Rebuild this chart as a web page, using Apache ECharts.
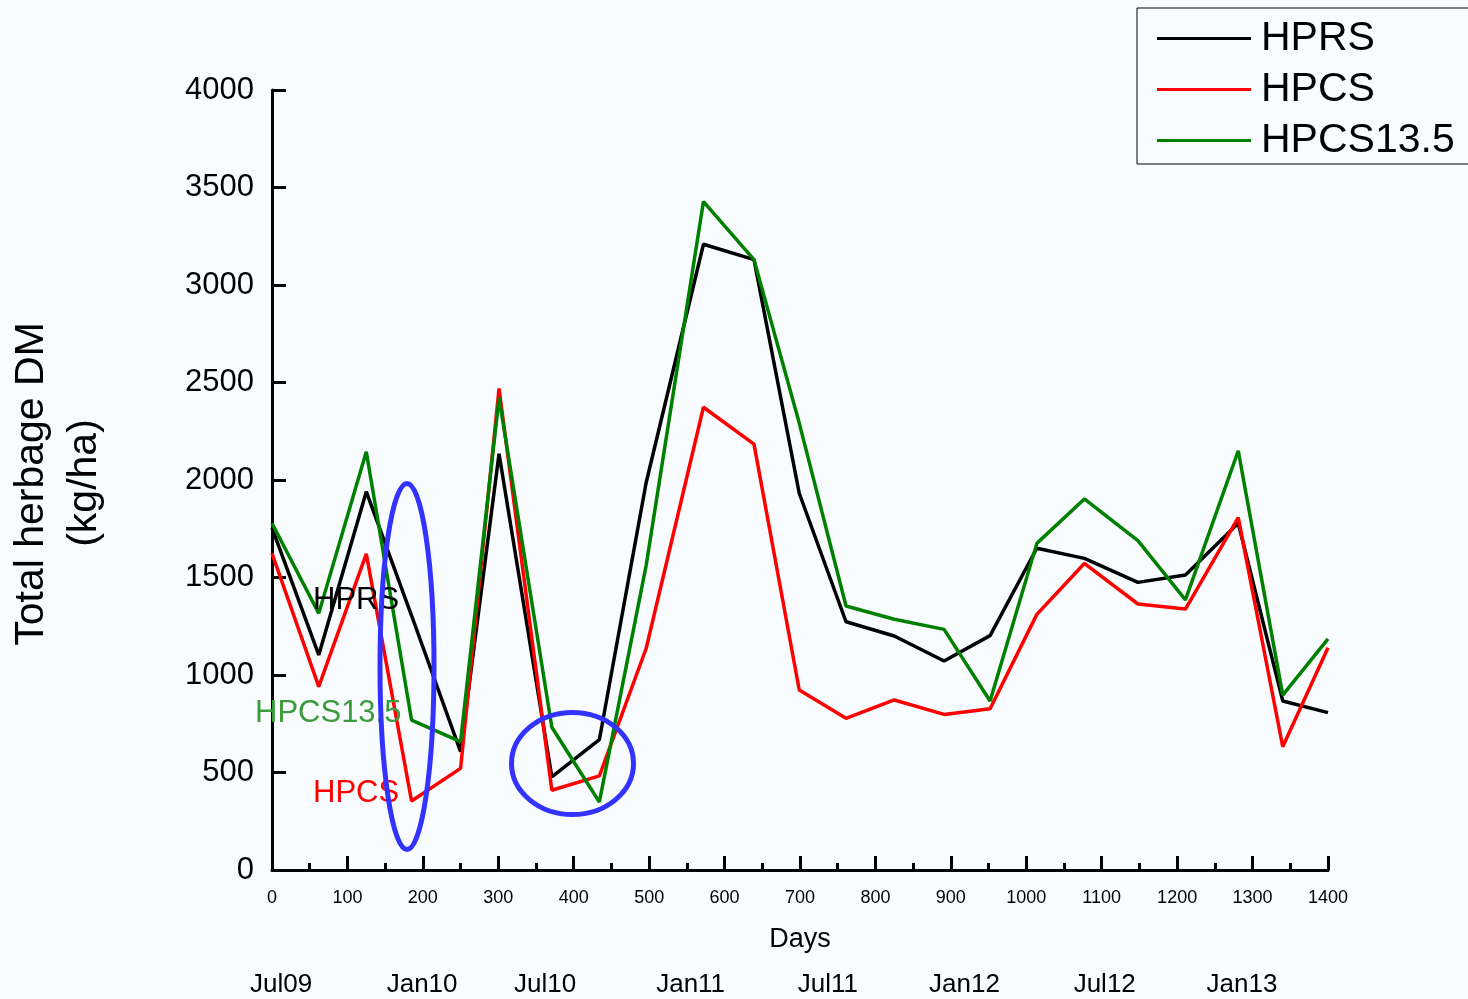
<!DOCTYPE html>
<html>
<head>
<meta charset="utf-8">
<script src="https://cdn.jsdelivr.net/npm/echarts@6/dist/echarts.min.js"></script>
<style>
html,body{margin:0;padding:0;background:#f9fcff;}
#c{width:1468px;height:999px;}
</style>
</head>
<body>
<div id="c"></div>
<script>
// Data
const days = [0, 62, 125, 185, 250, 301, 371, 434, 496, 572, 639, 699, 761, 825, 891, 952, 1014, 1077, 1148, 1211, 1281, 1340, 1400];
const hprs = [1755, 1103, 1940, 1305, 607, 2135, 477, 668, 1986, 3209, 3130, 1932, 1273, 1200, 1072, 1202, 1650, 1598, 1475, 1513, 1778, 867, 807];
const hpcs = [1624, 940, 1621, 354, 521, 2469, 409, 483, 1136, 2373, 2184, 923, 778, 872, 798, 827, 1311, 1572, 1364, 1338, 1807, 632, 1140];
const hpcs135 = [1778, 1316, 2145, 769, 658, 2422, 732, 349, 1561, 3428, 3130, 2292, 1354, 1286, 1234, 867, 1675, 1903, 1689, 1385, 2150, 897, 1185];
const seriesNames = ['HPRS', 'HPCS', 'HPCS13.5'];
const seriesColors = ['#000000', '#ff0000', '#008000'];
const monthLabels = ['Jul09', 'Jan10', 'Jul10', 'Jan11', 'Jul11', 'Jan12', 'Jul12', 'Jan13'];
const monthDays = [12, 199, 362, 555, 737, 918, 1104, 1286];

const font = 'Liberation Sans, Arial, sans-serif';
const pairs = vals => days.map((d, i) => [d, vals[i]]);
const allVals = [hprs, hpcs, hpcs135];

const chart = echarts.init(document.getElementById('c'), null, {renderer: 'canvas'});
chart.setOption({
  backgroundColor: '#f9fcff',
  animation: false,
  grid: {left: 272, top: 90, right: 140, bottom: 129, outerBoundsMode: 'none'},
  legend: {
    orient: 'vertical',
    left: 1137, top: 8,
    padding: [10, 14, 3, 20],
    borderColor: '#000', borderWidth: 1,
    icon: 'rect',
    itemWidth: 94, itemHeight: 3, itemGap: 10,
    textStyle: {fontSize: 41, fontFamily: font, color: '#000', lineHeight: 41, padding: [0, 0, 0, 5]},
    data: seriesNames
  },
  xAxis: [{
    type: 'value', min: 0, max: 1400, interval: 100,
    name: 'Days', nameLocation: 'middle', nameGap: 56,
    nameTextStyle: {fontSize: 27, fontFamily: font, color: '#000'},
    axisLine: {show: true, lineStyle: {color: '#000', width: 3}},
    axisTick: {show: true, inside: true, length: 14, lineStyle: {color: '#000', width: 3}},
    minorTick: {show: true, splitNumber: 2, length: 7, lineStyle: {color: '#000', width: 3}},
    axisLabel: {fontSize: 18, fontFamily: font, color: '#000', margin: 19, formatter: v => String(v)},
    splitLine: {show: false}
  }, {
    type: 'value', min: 0, max: 1400, position: 'bottom', offset: 0,
    axisLine: {show: false}, axisTick: {show: false}, splitLine: {show: false},
    axisLabel: {
      show: true, customValues: monthDays, margin: 102,
      fontSize: 26, fontFamily: font, color: '#000',
      formatter: v => { const i = monthDays.indexOf(v); return i >= 0 ? monthLabels[i] : ''; }
    }
  }],
  yAxis: {
    type: 'value', min: 0, max: 4000, interval: 500,
    axisLine: {show: true, lineStyle: {color: '#000', width: 3}},
    axisTick: {show: true, inside: true, length: 14, lineStyle: {color: '#000', width: 3}},
    axisLabel: {fontSize: 31, fontFamily: font, color: '#000', margin: 18, formatter: v => String(v)},
    splitLine: {show: false}
  },
  series: seriesNames.map((n, k) => ({
    name: n, type: 'line', xAxisIndex: 0,
    data: pairs(allVals[k]),
    symbol: 'none',
    lineStyle: {color: seriesColors[k], width: 3.5},
    itemStyle: {color: seriesColors[k]}
  })),
  graphic: [
    {type: 'text', x: 32, y: 484, rotation: Math.PI / 2,
     style: {text: 'Total herbage DM', fontSize: 41, fontFamily: font, fill: '#000', align: 'center', verticalAlign: 'middle'}},
    {type: 'text', x: 85, y: 483, rotation: Math.PI / 2,
     style: {text: '(kg/ha)', fontSize: 41, fontFamily: font, fill: '#000', align: 'center', verticalAlign: 'middle'}},
    {type: 'text', x: 313, y: 600, z: 100,
     style: {text: 'HPRS', fontSize: 31, fontFamily: font, fill: '#000', align: 'left', verticalAlign: 'middle'}},
    {type: 'text', x: 255, y: 713, z: 100,
     style: {text: 'HPCS13.5', fontSize: 31, fontFamily: font, fill: '#3c9b3c', align: 'left', verticalAlign: 'middle'}},
    {type: 'text', x: 313, y: 793, z: 100,
     style: {text: 'HPCS', fontSize: 31, fontFamily: font, fill: '#ff0000', align: 'left', verticalAlign: 'middle'}},
    {type: 'ellipse', z: 101, shape: {cx: 407, cy: 666.5, rx: 27, ry: 183},
     style: {fill: 'none', stroke: '#3333ff', lineWidth: 5}},
    {type: 'ellipse', z: 101, shape: {cx: 572.5, cy: 763.5, rx: 61, ry: 51},
     style: {fill: 'none', stroke: '#3333ff', lineWidth: 5}}
  ]
});
</script>
</body>
</html>
